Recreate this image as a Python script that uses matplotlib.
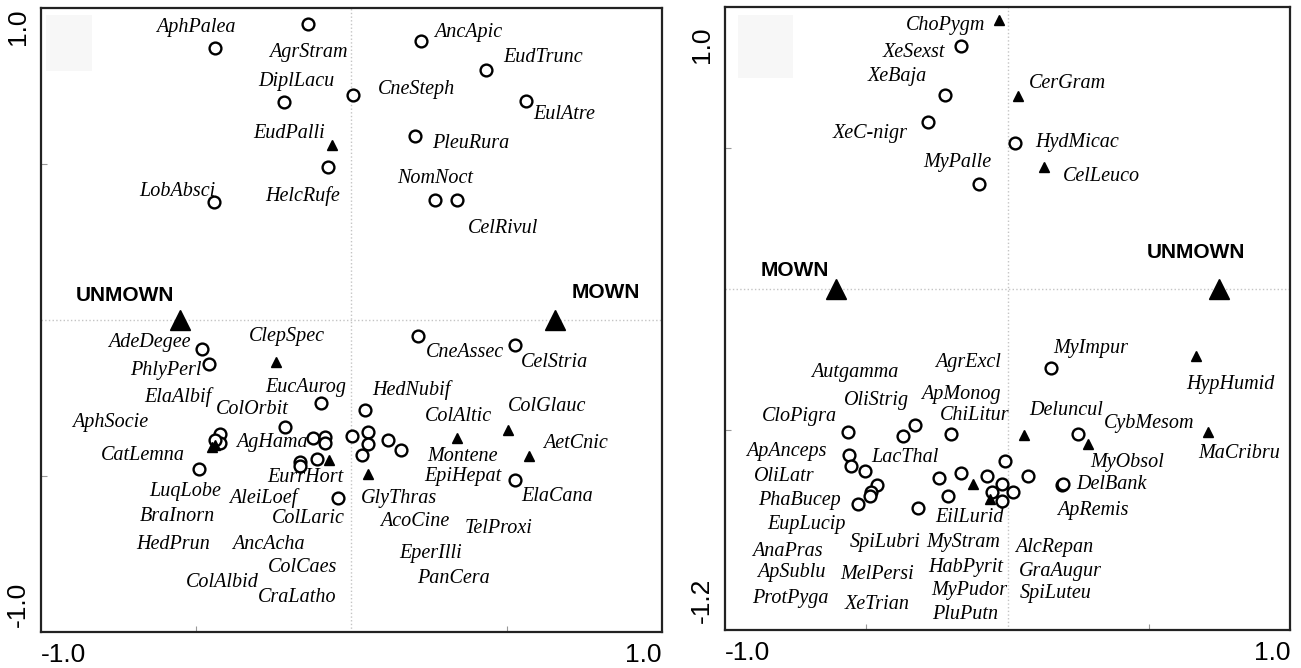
"""Two ordination biplots: species scores vs. MOWN / UNMOWN centroids."""

import matplotlib
matplotlib.use("Agg")
import matplotlib.pyplot as plt
from matplotlib.patches import Rectangle

# ---------------- left panel ----------------
L_circ_x = [-0.140, -0.440, 0.224, 0.433, 0.005, -0.217, 0.562, 0.205, -0.076,
            -0.443, 0.269, 0.340, -0.481, -0.459, 0.214, 0.527, -0.098, 0.043,
            -0.214, -0.424, -0.424, -0.440, -0.491, -0.166, -0.166, -0.124,
            -0.085, -0.085, -0.111, 0.002, 0.053, 0.053, 0.034, 0.118, 0.159,
            0.527, -0.043]
L_circ_y = [0.949, 0.872, 0.894, 0.801, 0.721, 0.699, 0.702, 0.590, 0.490,
            0.378, 0.385, 0.385, -0.093, -0.141, -0.051, -0.080, -0.266, -0.288,
            -0.343, -0.365, -0.394, -0.385, -0.478, -0.455, -0.468, -0.378,
            -0.375, -0.394, -0.446, -0.372, -0.359, -0.397, -0.433, -0.385,
            -0.417, -0.513, -0.571]
L_tri_x = [-0.063, -0.243, -0.450, -0.440, -0.072, 0.053, 0.340, 0.504, 0.572]
L_tri_y = [0.561, -0.135, -0.407, -0.401, -0.449, -0.494, -0.378, -0.353, -0.436]

L_env = ["UNMOWN", "MOWN"]
L_env_x = [-0.553, 0.655]
L_env_y = [0.0, 0.0]
L_env_lab_x = [-0.729, 0.820]
L_env_lab_y = [0.080, 0.087]

L_species = ["AphPalea", "AgrStram", "AncApic", "EudTrunc", "DiplLacu",
             "CneSteph", "EulAtre", "EudPalli", "PleuRura", "NomNoct",
             "LobAbsci", "HelcRufe", "CelRivul", "AdeDegee", "ClepSpec",
             "PhlyPerl", "EucAurog", "ElaAlbif", "ColOrbit", "AphSocie",
             "AgHama", "CatLemna", "EurrHort", "LuqLobe", "AleiLoef",
             "BraInorn", "ColLaric", "HedPrun", "AncAcha", "ColCaes",
             "ColAlbid", "CraLatho", "CneAssec", "CelStria", "HedNubif",
             "ColGlauc", "ColAltic", "AetCnic", "Montene", "EpiHepat",
             "ElaCana", "GlyThras", "AcoCine", "TelProxi", "EperIlli",
             "PanCera"]
L_lab_x = [-0.501, -0.140, 0.375, 0.617, -0.176, 0.211, 0.684, -0.201, 0.385,
           0.269, -0.562, -0.156, 0.488, -0.652, -0.208, -0.597, -0.147,
           -0.559, -0.320, -0.778, -0.256, -0.671, -0.150, -0.536, -0.285,
           -0.562, -0.140, -0.575, -0.266, -0.159, -0.417, -0.176, 0.366,
           0.655, 0.192, 0.630, 0.343, 0.723, 0.356, 0.359, 0.662, 0.153,
           0.205, 0.475, 0.256, 0.330]
L_lab_y = [0.936, 0.859, 0.920, 0.840, 0.763, 0.740, 0.660, 0.599, 0.567,
           0.455, 0.413, 0.397, 0.292, -0.071, -0.054, -0.163, -0.215, -0.247,
           -0.288, -0.327, -0.394, -0.433, -0.506, -0.551, -0.571, -0.631,
           -0.635, -0.721, -0.721, -0.792, -0.840, -0.891, -0.103, -0.135,
           -0.224, -0.276, -0.308, -0.397, -0.436, -0.503, -0.567, -0.571,
           -0.647, -0.667, -0.747, -0.830]

# ---------------- right panel ----------------
R_circ_x = [-0.166, -0.220, -0.282, 0.026, -0.100, 0.154, -0.566, -0.371,
            -0.327, -0.200, -0.561, -0.554, -0.504, -0.463, -0.484, -0.487,
            -0.528, -0.318, -0.241, -0.166, -0.212, -0.074, -0.010, -0.021,
            -0.056, 0.021, -0.021, 0.072, 0.248, 0.192, 0.195]
R_circ_y = [0.862, 0.688, 0.592, 0.518, 0.372, -0.279, -0.506, -0.521,
            -0.482, -0.514, -0.589, -0.630, -0.645, -0.695, -0.719, -0.733,
            -0.762, -0.778, -0.671, -0.654, -0.733, -0.662, -0.612, -0.691,
            -0.719, -0.719, -0.751, -0.662, -0.515, -0.695, -0.691]
R_tri_x = [-0.032, 0.036, 0.130, 0.666, 0.058, 0.284, 0.709, -0.123, -0.062]
R_tri_y = [0.954, 0.684, 0.433, -0.238, -0.518, -0.551, -0.508, -0.693, -0.745]

R_env = ["MOWN", "UNMOWN"]
R_env_x = [-0.608, 0.750]
R_env_y = [0.0, 0.0]
R_env_lab_x = [-0.752, 0.667]
R_env_lab_y = [0.064, 0.128]

R_species = ["ChoPygm", "XeSexst", "XeBaja", "CerGram", "XeC-nigr",
             "HydMicac", "MyPalle", "CelLeuco", "MyImpur", "HypHumid",
             "Deluncul", "CybMesom", "MaCribru", "MyObsol", "DelBank",
             "ApRemis", "AlcRepan", "GraAugur", "SpiLuteu", "AgrExcl",
             "Autgamma", "ApMonog", "OliStrig", "CloPigra", "ChiLitur",
             "ApAnceps", "LacThal", "OliLatr", "PhaBucep", "EilLurid",
             "EupLucip", "SpiLubri", "MyStram", "AnaPras", "ApSublu",
             "MelPersi", "HabPyrit", "MyPudor", "ProtPyga", "XeTrian",
             "PluPutn"]
R_lab_x = [-0.218, -0.331, -0.391, 0.213, -0.485, 0.246, -0.179, 0.333,
           0.296, 0.790, 0.206, 0.502, 0.821, 0.422, 0.369, 0.302, 0.166,
           0.186, 0.172, -0.141, -0.540, -0.165, -0.465, -0.738, -0.118,
           -0.782, -0.363, -0.790, -0.735, -0.135, -0.713, -0.434, -0.156,
           -0.779, -0.764, -0.461, -0.148, -0.135, -0.770, -0.463, -0.150]
R_lab_y = [0.933, 0.837, 0.752, 0.730, 0.550, 0.521, 0.447, 0.397, -0.210,
           -0.338, -0.432, -0.476, -0.585, -0.615, -0.695, -0.787, -0.916,
           -1.002, -1.079, -0.261, -0.295, -0.376, -0.396, -0.453, -0.450,
           -0.577, -0.597, -0.666, -0.752, -0.811, -0.837, -0.898, -0.898,
           -0.932, -1.006, -1.014, -0.990, -1.071, -1.097, -1.121, -1.156]

# axis ranges and end labels as printed in the figure
L_ylim = (-1.0, 1.0)
R_ylim = (-1.21, 1.0)
L_ytick_pos = [0.94, -0.91]
R_ytick_pos = [0.865, -1.103]
L_yticklabels = ["1.0", "-1.0"]
R_yticklabels = ["1.0", "-1.2"]

SPECIES_FONT = dict(family="Liberation Serif", style="italic", size=14.5)
ENV_FONT = dict(family="Liberation Sans", weight="bold", size=15)


def draw_panel(ax, circ_x, circ_y, tri_x, tri_y, env, env_x, env_y,
               env_lab_x, env_lab_y, species, lab_x, lab_y, ylim,
               ytick_pos, yticklabels, box):
    ax.set_xlim(-1.0, 1.0)
    ax.set_ylim(*ylim)

    # faint crosshair through the origin
    ax.axhline(0, color="#c4c4c4", lw=1.0, ls=":", zorder=0)
    ax.axvline(0, color="#c4c4c4", lw=1.0, ls=":", zorder=0)

    # faint grey corner box (as in the source figure)
    ax.add_patch(Rectangle((box[0], box[1]), box[2], box[3],
                           transform=ax.transAxes, color="#f7f7f7",
                           lw=0, zorder=0))

    ax.plot(circ_x, circ_y, "o", ms=8.5, mfc="white", mec="black", mew=1.7,
            ls="none", zorder=3)
    ax.plot(tri_x, tri_y, "^", ms=7, color="black", ls="none", zorder=3)
    ax.plot(env_x, env_y, "^", ms=15, color="black", ls="none", zorder=4)

    for name, x, y in zip(env, env_lab_x, env_lab_y):
        ax.text(x, y, name, ha="center", va="center", **ENV_FONT)
    for name, x, y in zip(species, lab_x, lab_y):
        ax.text(x, y, name, ha="center", va="center", **SPECIES_FONT)

    # end labels only, with short inward ticks at +-0.5
    ax.set_xticks([-1.0, 1.0], ["-1.0", "1.0"])
    ax.set_xticks([-0.5, 0.5], minor=True)
    ax.set_yticks(ytick_pos, yticklabels)
    ax.set_yticks([-0.5, 0.5], minor=True)
    ax.tick_params(which="major", length=0, labelsize=19, pad=8)
    ax.tick_params(which="minor", direction="in", length=4, width=0.8,
                   color="#999999")
    xl = ax.get_xticklabels()
    xl[0].set_ha("left")
    xl[1].set_ha("right")
    for lab in ax.get_yticklabels():
        lab.set_rotation(90)
        lab.set_va("center")
    for lab in ax.get_xticklabels() + ax.get_yticklabels():
        lab.set_family("Liberation Sans")
    for sp in ax.spines.values():
        sp.set_linewidth(1.6)
        sp.set_color("#222222")


fig = plt.figure(figsize=(13.01, 6.68), dpi=100)
ax_l = fig.add_axes([0.0315, 0.0539, 0.4773, 0.9341])
ax_r = fig.add_axes([0.5573, 0.0569, 0.4343, 0.9326])

draw_panel(ax_l, L_circ_x, L_circ_y, L_tri_x, L_tri_y, L_env, L_env_x,
           L_env_y, L_env_lab_x, L_env_lab_y, L_species, L_lab_x, L_lab_y,
           L_ylim, L_ytick_pos, L_yticklabels, (0.008, 0.899, 0.074, 0.09))
draw_panel(ax_r, R_circ_x, R_circ_y, R_tri_x, R_tri_y, R_env, R_env_x,
           R_env_y, R_env_lab_x, R_env_lab_y, R_species, R_lab_x, R_lab_y,
           R_ylim, R_ytick_pos, R_yticklabels, (0.023, 0.886, 0.097, 0.101))

fig.savefig("out.png", dpi=100)
